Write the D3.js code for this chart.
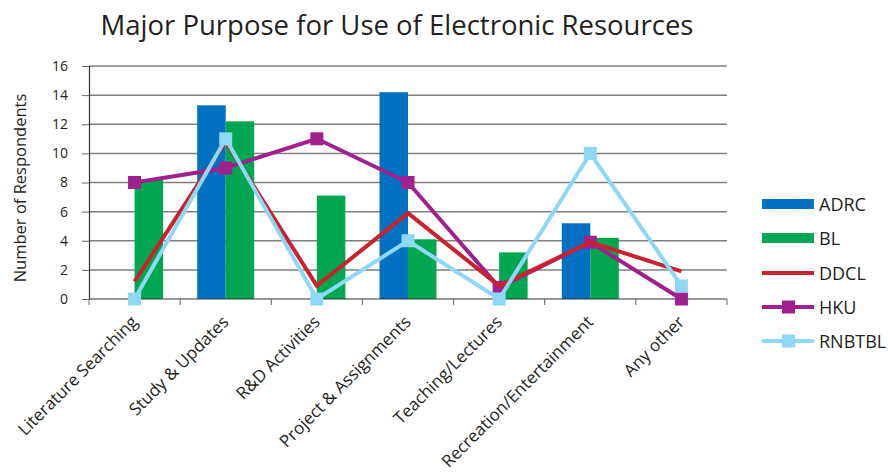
<!DOCTYPE html>
<html>
<head>
<meta charset="utf-8">
<script src="https://cdn.jsdelivr.net/npm/d3@7"></script>
<style>
  body { margin: 0; background: #fff; }
  text { font-family: "Open Sans", "Noto Sans", sans-serif; fill: #231f20; }
</style>
</head>
<body>
<div id="chart"></div>
<script>
// data
var categories = ["Literature Searching", "Study & Updates", "R&D Activities",
  "Project & Assignments", "Teaching/Lectures", "Recreation/Entertainment", "Any other"];
var adrc   = [0, 13.3, 0, 14.2, 0, 5.2, 0];
var bl     = [8.2, 12.2, 7.1, 4.1, 3.2, 4.2, 0];
var ddcl   = [1.2, 10.8, 0.9, 5.9, 0.9, 3.9, 1.9];
var hku    = [8, 9, 11, 8, 0.8, 3.9, 0];
var rnbtbl = [0, 11, 0, 4, 0, 10, 0.9];
var yTicks = [0, 2, 4, 6, 8, 10, 12, 14, 16];

var barSeries = [
  { name: "ADRC", values: adrc, color: "#0070c0" },
  { name: "BL", values: bl, color: "#00a650" }
];
var lineSeries = [
  { name: "HKU", values: hku, color: "#a0208e", marker: true },
  { name: "DDCL", values: ddcl, color: "#c8232c", marker: false },
  { name: "RNBTBL", values: rnbtbl, color: "#8fd8f5", marker: true }
];
var legendOrder = ["ADRC", "BL", "DDCL", "HKU", "RNBTBL"];

(function () {
  'use strict';

  var svg = d3.select("#chart").append("svg")
    .attr("width", 888)
    .attr("height", 474);

  var x = d3.scaleBand().domain(categories).range([89, 727]).padding(0);
  var x1 = d3.scaleBand().domain(barSeries.map(function (s) { return s.name; }))
    .range([0, x.bandwidth()]).paddingInner(0).paddingOuter(0.6);
  var y = d3.scaleLinear().domain([0, 16]).range([299, 66]);

  // title
  svg.append("text")
    .attr("x", 397).attr("y", 35)
    .attr("text-anchor", "middle")
    .style("font-size", "27.5px")
    .text("Major Purpose for Use of Electronic Resources");

  // gridlines
  svg.append("g")
    .selectAll("line")
    .data(yTicks.filter(function (d) { return d > 0; }))
    .enter().append("line")
    .attr("x1", 89).attr("x2", 727)
    .attr("y1", function (d) { return y(d); })
    .attr("y2", function (d) { return y(d); })
    .attr("stroke", "#7f7f7f")
    .attr("stroke-width", 1.5);

  // y axis
  var yAxis = svg.append("g")
    .attr("transform", "translate(89,0)")
    .call(d3.axisLeft(y).tickValues(yTicks).tickSize(7).tickPadding(14));
  yAxis.select(".domain").attr("stroke", "#333").attr("stroke-width", 1.2);
  yAxis.selectAll(".tick line").attr("stroke", "#666");
  yAxis.selectAll(".tick text")
    .style("font-size", "14px")
    .style("font-family", "'Open Sans', sans-serif")
    .attr("fill", "#231f20");

  svg.append("text")
    .attr("transform", "translate(26,188) rotate(-90)")
    .attr("text-anchor", "middle")
    .style("font-size", "16.5px")
    .text("Number of Respondents");

  // bars
  barSeries.forEach(function (s) {
    svg.append("g")
      .selectAll("rect")
      .data(s.values)
      .enter().append("rect")
      .attr("x", function (d, i) { return x(categories[i]) + x1(s.name); })
      .attr("width", x1.bandwidth())
      .attr("y", function (d) { return y(d); })
      .attr("height", function (d) { return y(0) - y(d); })
      .attr("fill", s.color);
  });

  // x axis
  var xAxisG = svg.append("g").attr("transform", "translate(0,299)");
  xAxisG.append("line")
    .attr("x1", 89).attr("x2", 727)
    .attr("stroke", "#333").attr("stroke-width", 1.2);
  xAxisG.selectAll(".xtick")
    .data(categories.concat([null]))
    .enter().append("line")
    .attr("class", "xtick")
    .attr("x1", function (d, i) { return i < categories.length ? x(d) : 727; })
    .attr("x2", function (d, i) { return i < categories.length ? x(d) : 727; })
    .attr("y1", 0).attr("y2", 6)
    .attr("stroke", "#666");
  xAxisG.selectAll(".xlabel")
    .data(categories)
    .enter().append("text")
    .attr("class", "xlabel")
    .attr("text-anchor", "end")
    .attr("transform", function (d) {
      return "translate(" + (x(d) + x.bandwidth() / 2 + 4) + ",24) rotate(-45)";
    })
    .style("font-size", "17px")
    .text(function (d) { return d; });

  // lines
  var line = d3.line()
    .x(function (d, i) { return x(categories[i]) + x.bandwidth() / 2; })
    .y(function (d) { return y(d); });

  lineSeries.forEach(function (s) {
    var g = svg.append("g");
    g.append("path")
      .datum(s.values)
      .attr("d", line)
      .attr("fill", "none")
      .attr("stroke", s.color)
      .attr("stroke-width", 4)
      .attr("stroke-linejoin", "miter");
    if (s.marker) {
      g.selectAll("rect")
        .data(s.values)
        .enter().append("rect")
        .attr("x", function (d, i) { return x(categories[i]) + x.bandwidth() / 2 - 6.5; })
        .attr("y", function (d) { return y(d) - 6.5; })
        .attr("width", 13).attr("height", 13)
        .attr("fill", s.color);
    }
  });

  // legend
  var all = barSeries.concat(lineSeries);
  var legendY = [204, 238, 273, 307, 341];
  var legend = svg.append("g");
  legendOrder.forEach(function (name, i) {
    var s = all.filter(function (d) { return d.name === name; })[0];
    var row = legend.append("g").attr("transform", "translate(762," + legendY[i] + ")");
    if (s.values === adrc || s.values === bl) {
      row.append("rect").attr("x", 0).attr("y", -5).attr("width", 52).attr("height", 10)
        .attr("fill", s.color);
    } else {
      row.append("line").attr("x1", 0).attr("x2", 52)
        .attr("stroke", s.color).attr("stroke-width", 4);
      if (s.marker) {
        row.append("rect").attr("x", 20).attr("y", -6.5).attr("width", 13).attr("height", 13)
          .attr("fill", s.color);
      }
    }
    row.append("text")
      .attr("x", 57).attr("y", 6.5)
      .style("font-size", "18px")
      .text(name);
  });
})();
</script>
</body>
</html>
